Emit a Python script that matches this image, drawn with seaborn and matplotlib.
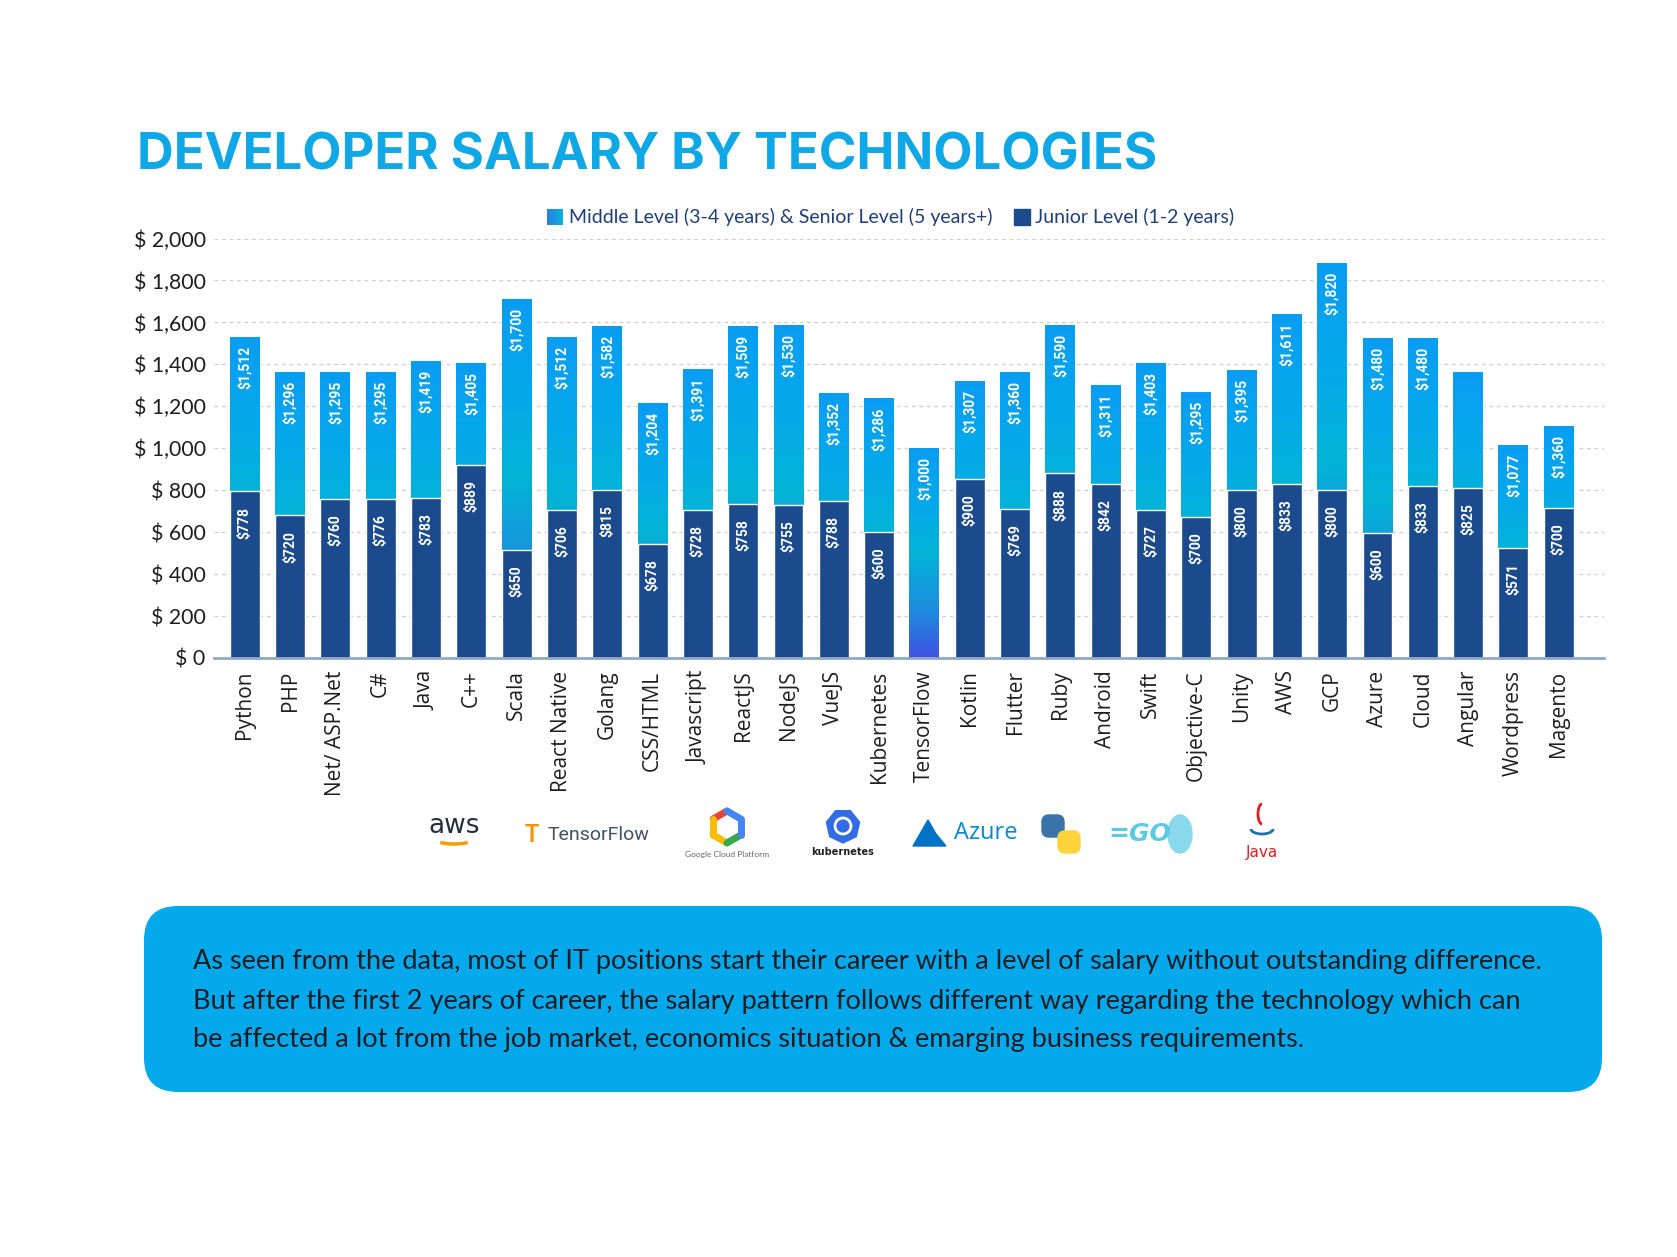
import numpy as np
import pandas as pd
import matplotlib
matplotlib.use("Agg")
import matplotlib.pyplot as plt
import seaborn as sns
from matplotlib.colors import LinearSegmentedColormap
from matplotlib.patches import FancyBboxPatch, Rectangle, Arc, RegularPolygon, Ellipse, Polygon

# ------------------ Data ------------------
techs = ["Python", "PHP", "Net/ ASP.Net", "C#", "Java", "C++", "Scala", "React Native",
         "Golang", "CSS/HTML", "Javascript", "ReactJS", "NodeJS", "VueJS", "Kubernetes",
         "TensorFlow", "Kotlin", "Flutter", "Ruby", "Android", "Swift", "Objective-C",
         "Unity", "AWS", "GCP", "Azure", "Cloud", "Angular", "Wordpress", "Magento"]

# bar heights as drawn in the picture
senior_height = [1530, 1360, 1360, 1360, 1415, 1405, 1710, 1530, 1580, 1215,
                 1375, 1580, 1585, 1260, 1235, 1000, 1320, 1360, 1585, 1300,
                 1405, 1265, 1370, 1640, 1880, 1525, 1525, 1360, 1015, 1105]
junior_height = [795, 680, 760, 760, 765, 920, 515, 705, 800, 545,
                 705, 735, 730, 750, 600, 0, 855, 710, 880, 830,
                 705, 670, 800, 830, 800, 595, 820, 810, 525, 715]

# value labels printed on the bars
senior_label = ["$1,512", "$1,296", "$1,295", "$1,295", "$1,419", "$1,405", "$1,700", "$1,512",
                "$1,582", "$1,204", "$1,391", "$1,509", "$1,530", "$1,352", "$1,286", "$1,000",
                "$1,307", "$1,360", "$1,590", "$1,311", "$1,403", "$1,295", "$1,395", "$1,611",
                "$1,820", "$1,480", "$1,480", "", "$1,077", "$1,360"]
junior_label = ["$778", "$720", "$760", "$776", "$783", "$889", "$650", "$706", "$815", "$678",
                "$728", "$758", "$755", "$788", "$600", "", "$900", "$769", "$888", "$842",
                "$727", "$700", "$800", "$833", "$800", "$600", "$833", "$825", "$571", "$700"]

y_ticks = [0, 200, 400, 600, 800, 1000, 1200, 1400, 1600, 1800, 2000]

legend_labels = ["Middle Level (3-4 years) & Senior Level (5 years+)", "Junior Level (1-2 years)"]
title = "DEVELOPER SALARY BY TECHNOLOGIES"
note_lines = [
    "As seen from the data, most of IT positions start their career with a level of salary without outstanding difference.",
    "But after the first 2 years of career, the salary pattern follows different way regarding the technology which can",
    "be affected a lot from the job market, economics situation & emarging business requirements.",
]

df = pd.DataFrame({"tech": techs, "senior": senior_height, "junior": junior_height})

# ------------------ Style ------------------
sns.set_style("white")
plt.rcParams["font.family"] = ["Lato", "DejaVu Sans"]

JUNIOR = "#1B4B8C"
TITLE_BLUE = "#10A7E6"
grad_cmap = LinearSegmentedColormap.from_list(
    "senior", [(0.0, "#4052E2"), (0.22, "#1E8ADF"), (0.5, "#03B4D6"),
               (0.75, "#05A8EB"), (1.0, "#0A9DF2")])

W, H = 1677, 1257
fig = plt.figure(figsize=(W / 100, H / 100), dpi=100)

# decoration canvas in pixel coordinates
deco = fig.add_axes([0, 0, 1, 1], zorder=0)
deco.set_xlim(0, W)
deco.set_ylim(H, 0)
deco.axis("off")

# ------------------ Bars ------------------
ax = fig.add_axes([214 / W, 1 - 658 / H, (1604 - 214) / W, (658 - 238.5) / H], zorder=1)
ax.set_facecolor("none")

sns.barplot(data=df, x="tech", y="senior", color="#05A8EB", saturation=1,
            width=0.66, ax=ax, zorder=1)
senior_bars = list(ax.patches)
for bar in senior_bars:
    x0, w, h = bar.get_x(), bar.get_width(), bar.get_height()
    ax.imshow(np.linspace(0, 1, 256).reshape(-1, 1), extent=[x0, x0 + w, 0, h],
              origin="lower", cmap=grad_cmap, aspect="auto", zorder=1.5)

sns.barplot(data=df, x="tech", y="junior", color=JUNIOR, saturation=1,
            width=0.66, ax=ax, zorder=2)

ax.set_xlim(-0.68, 30.0)
ax.set_ylim(0, 2000)

# value labels
for i, (sh, jh) in enumerate(zip(senior_height, junior_height)):
    if senior_label[i]:
        ax.annotate(senior_label[i], (i, sh), xytext=(0, -6), textcoords="offset points",
                    rotation=90, ha="center", va="top", color="white",
                    fontsize=10, fontweight="bold", family="Roboto", zorder=3)
    if junior_label[i]:
        ax.annotate(junior_label[i], (i, jh), xytext=(0, -11), textcoords="offset points",
                    rotation=90, ha="center", va="top", color="white",
                    fontsize=10, fontweight="bold", family="Roboto", zorder=3)

ax.set_yticks(y_ticks)
ax.set_yticklabels([f"$ {v:,}" for v in y_ticks])
ax.yaxis.grid(True, linestyle=(0, (3, 3)), color="#cfcfcf", linewidth=0.9)
ax.set_axisbelow(True)
ax.tick_params(axis="y", length=0, pad=6, labelsize=15.3, labelcolor="#1e1e1e")
ax.tick_params(axis="x", length=0, pad=9, labelsize=15, labelcolor="#1e1e1e")
for lab in ax.get_xticklabels():
    lab.set_rotation(90)
    lab.set_family(["Open Sans", "DejaVu Sans"])
ax.set_xlabel("")
ax.set_ylabel("")
for side in ["top", "right", "left"]:
    ax.spines[side].set_visible(False)
ax.spines["bottom"].set_color("#8FA7C8")
ax.spines["bottom"].set_linewidth(2)

# ------------------ Title & legend ------------------
deco.text(137, 156, title, ha="left", va="center", fontsize=36.6, fontweight="bold",
          family=["Inter", "DejaVu Sans"], color=TITLE_BLUE)

deco.imshow(np.linspace(0, 1, 64).reshape(1, -1), extent=[547, 563, 225, 209],
            cmap=LinearSegmentedColormap.from_list("lg", ["#2A7FE0", "#08B2DC"]), aspect="auto")
deco.text(569, 217, legend_labels[0], ha="left", va="center", fontsize=14, color="#1F3F7A")
deco.add_patch(Rectangle((1014, 209), 16, 16, color=JUNIOR))
deco.text(1035, 217, legend_labels[1], ha="left", va="center", fontsize=14, color="#1F3F7A")

# ------------------ Logo row (approximated) ------------------
deco.text(454, 826, "aws", ha="center", va="center", fontsize=19, color="#252F3E",
          family="DejaVu Sans")
deco.add_patch(Arc((454, 836), 46, 16, theta1=25, theta2=155, color="#FF9900", lw=2.5))
deco.text(532, 835, "T", ha="center", va="center", fontsize=17, fontweight="bold", color="#FF8F00")
deco.text(548, 835, "TensorFlow", ha="left", va="center", fontsize=14, color="#425066",
          family="Roboto")
for k, c in enumerate(["#EA4335", "#FBBC05", "#FBBC05", "#34A853", "#4285F4", "#4285F4"]):
    a0 = np.deg2rad(90 + 60 * k)
    a1 = np.deg2rad(150 + 60 * k)
    deco.plot([727 + 16 * np.cos(a0), 727 + 16 * np.cos(a1)],
              [827 - 16 * np.sin(a0), 827 - 16 * np.sin(a1)], color=c, lw=5,
              solid_capstyle="round")
deco.text(727, 854, "Google Cloud Platform", ha="center", va="center", fontsize=6, color="#666666")
deco.add_patch(RegularPolygon((843, 826), numVertices=7, radius=17, color="#326CE5"))
deco.add_patch(Ellipse((843, 826), 16, 16, fill=False, ec="white", lw=2))
deco.text(843, 852, "kubernetes", ha="center", va="center", fontsize=7, fontweight="bold",
          color="#222222", family="DejaVu Sans")
deco.add_patch(Polygon([[913, 846], [928, 820], [936, 834], [946, 846]], color="#0072C6"))
deco.text(954, 833, "Azure", ha="left", va="center", fontsize=17, color="#0089D6", family="Open Sans")
deco.add_patch(FancyBboxPatch((1042, 815), 22, 22, boxstyle="round,pad=0,rounding_size=7",
                              color="#3A73A8"))
deco.add_patch(FancyBboxPatch((1058, 831), 22, 22, boxstyle="round,pad=0,rounding_size=7",
                              color="#FFD43B"))
deco.text(1140, 834, "=GO", ha="center", va="center", fontsize=18, fontweight="bold",
          style="italic", color="#5DC9E2", family="DejaVu Sans")
deco.add_patch(Ellipse((1180, 834), 24, 38, color="#8AD8EC"))
deco.add_patch(Arc((1262, 814), 8, 20, theta1=90, theta2=270, color="#E11F21", lw=2))
deco.add_patch(Arc((1262, 829), 22, 10, theta1=0, theta2=180, color="#1F6FB5", lw=2))
deco.text(1262, 852, "Java", ha="center", va="center", fontsize=11, color="#E11F21",
          family="DejaVu Sans")

# ------------------ Note box ------------------
deco.add_patch(FancyBboxPatch((144, 906), 1458, 186, boxstyle="round,pad=0,rounding_size=34",
                              color="#03A9EA", lw=0))
for line, yy in zip(note_lines, [961, 1001, 1040]):
    deco.text(193, yy, line, ha="left", va="center", fontsize=19.5, color="#1C1C24")

deco.set_xlim(0, W)
deco.set_ylim(H, 0)

fig.savefig("out.png", dpi=100, facecolor="white")
